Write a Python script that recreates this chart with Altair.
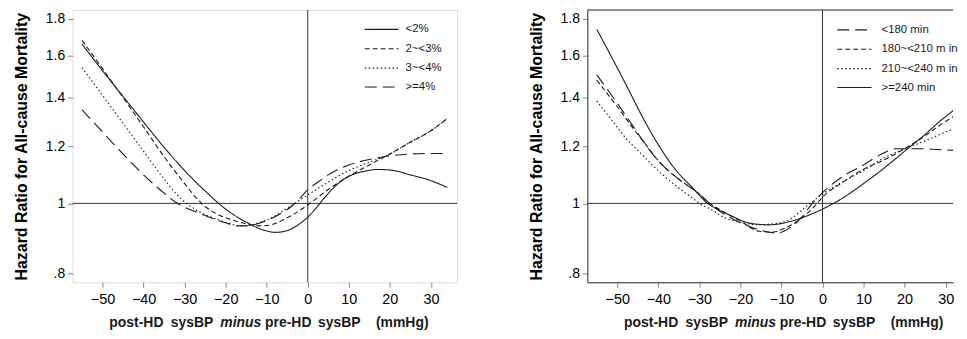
import altair as alt
import pandas as pd

# ---------------- data ----------------
left_names = ["<2%", "2~<3%", "3~<4%", ">=4%"]

l1_x = [-55, -50, -45, -40, -35, -30, -25, -20, -15, -10, -8, -6, -4, -2, 0, 2, 4, 6, 8, 10, 14, 17, 20, 25, 30, 34]
l1_y = [1.66, 1.525, 1.405, 1.295, 1.195, 1.11, 1.04, 0.982, 0.942, 0.916, 0.912, 0.914, 0.922, 0.937, 0.957, 0.985, 1.017, 1.047, 1.072, 1.09, 1.108, 1.114, 1.112, 1.095, 1.075, 1.052]

l2_x = [-55, -50, -45, -40, -35, -30, -27, -25, -22, -19, -15, -12, -10, -5, 0, 5, 10, 15, 20, 25, 30, 34]
l2_y = [1.68, 1.535, 1.40, 1.275, 1.16, 1.065, 1.015, 0.99, 0.966, 0.951, 0.937, 0.931, 0.932, 0.955, 0.995, 1.045, 1.09, 1.13, 1.17, 1.215, 1.26, 1.31]

l3_x = [-55, -50, -45, -40, -35, -32, -30, -27.5, -25, -20, -17, -15, -12, -10, -5, 0, 5, 10, 15, 20, 25, 30, 34]
l3_y = [1.54, 1.41, 1.29, 1.18, 1.08, 1.03, 1.005, 0.982, 0.965, 0.942, 0.932, 0.932, 0.94, 0.948, 0.985, 1.027, 1.07, 1.11, 1.14, 1.17, 1.215, 1.26, 1.31]

l4_x = [-55, -50, -45, -40, -35, -32, -30, -27, -25, -20, -17, -15, -12, -10, -7, -4, -2, 0, 3, 5, 10, 15, 20, 25, 30, 34]
l4_y = [1.347, 1.255, 1.17, 1.095, 1.033, 1.002, 0.988, 0.972, 0.962, 0.94, 0.931, 0.931, 0.938, 0.947, 0.965, 0.99, 1.015, 1.045, 1.075, 1.095, 1.13, 1.15, 1.163, 1.17, 1.172, 1.172]

right_names = ["<180 min", "180~<210 min", "210~<240 min", ">=240 min"]
right_labels = ["<180 min", "180~<210 m in", "210~<240 m in", ">=240 min"]

r1_x = [-55, -50, -45, -43.8, -39.7, -35, -30, -27.5, -25, -20, -15, -11, -8, -5, -2.5, 0, 5, 10, 13.8, 17.9, 23.5, 28, 34]
r1_y = [1.505, 1.375, 1.25, 1.221, 1.14, 1.08, 1.03, 1.0, 0.975, 0.94, 0.918, 0.910, 0.925, 0.958, 1.0, 1.035, 1.09, 1.13, 1.165, 1.19, 1.19, 1.187, 1.182]

r2_x = [-55, -50, -45, -43.8, -39.7, -35, -30, -27.5, -25, -20, -15.4, -12, -10, -5, -2, 0, 5, 10, 13.8, 20, 25, 28.4, 34]
r2_y = [1.48, 1.36, 1.245, 1.221, 1.14, 1.08, 1.03, 1.0, 0.98, 0.945, 0.915, 0.913, 0.92, 0.955, 0.99, 1.02, 1.07, 1.115, 1.14, 1.19, 1.24, 1.28, 1.34]

r3_x = [-55, -50, -47.8, -45, -39.7, -35, -31.6, -30, -27, -24.3, -20, -16, -12, -8, -4, 0, 5, 10, 13.8, 20, 25, 30, 34]
r3_y = [1.385, 1.274, 1.228, 1.184, 1.105, 1.05, 1.016, 1.0, 0.98, 0.958, 0.942, 0.934, 0.937, 0.95, 0.99, 1.03, 1.072, 1.11, 1.146, 1.19, 1.22, 1.255, 1.28]

r4_x = [-55, -51.5, -47.5, -43.8, -40, -35.7, -31.6, -28, -26.8, -22, -18.7, -15, -13, -10, -6.5, -3, 0, 2.4, 5, 8, 10, 13.8, 18, 21.9, 25, 28, 31.6, 34]
r4_y = [1.74, 1.597, 1.445, 1.314, 1.205, 1.111, 1.05, 1.0, 0.99, 0.96, 0.942, 0.935, 0.934, 0.938, 0.949, 0.965, 0.982, 0.998, 1.018, 1.045, 1.065, 1.105, 1.155, 1.205, 1.245, 1.29, 1.34, 1.375]

x_ticks = [-50, -40, -30, -20, -10, 0, 10, 20, 30]
y_ticks = [0.8, 1.0, 1.2, 1.4, 1.6, 1.8]

# ---------------- styling ----------------
FONT = "Liberation Sans"
INK = "#1a1a1a"
H = 274
W_LEFT = 387
W_RIGHT = 368
PX_PER_UNIT = 4.13
X_MIN = -57.3
Y_DOMAIN = [0.778, 1.85]

DASH_SOLID = [1, 0]
DASH_SHORT = [5, 3]
DASH_DOT = [1.5, 2.5]
DASH_LONG = [12, 6]

left_dash = [DASH_SOLID, DASH_SHORT, DASH_DOT, DASH_LONG]
right_dash = [DASH_LONG, DASH_SHORT, DASH_DOT, DASH_SOLID]


def make_df(names, xs_list, ys_list):
    rows = []
    for n, xs, ys in zip(names, xs_list, ys_list):
        for xv, yv in zip(xs, ys):
            rows.append({"series": n, "x": xv, "y": yv})
    return pd.DataFrame(rows)


def panel(names, labels, xs_list, ys_list, dashes, width, leg_x0, leg_x1, leg_tx,
          leg_rows, framed):
    df = make_df(names, xs_list, ys_list)
    x_max = X_MIN + width / PX_PER_UNIT
    xenc = alt.X("x:Q",
                 scale=alt.Scale(domain=[X_MIN, x_max], nice=False, zero=False),
                 axis=alt.Axis(values=x_ticks, title=None, format="d",
                               labelFontSize=14.5, labelPadding=5, tickSize=5,
                               domain=not framed, domainColor="#222",
                               grid=False))
    yenc = alt.Y("y:Q",
                 scale=alt.Scale(type="log", domain=Y_DOMAIN, nice=False),
                 axis=alt.Axis(values=y_ticks, grid=False, domain=not framed,
                               domainColor="#222",
                               labelExpr="datum.value < 0.9 ? '.8' : (abs(datum.value - 1) < 0.01 ? '1' : format(datum.value, '.1f'))",
                               title="Hazard Ratio for All-cause  Mortality",
                               titleFontSize=16, titleFontWeight="bold",
                               titlePadding=16, labelFontSize=14,
                               labelPadding=3, tickSize=5))
    lines = alt.Chart(df).mark_line(clip=True, color=INK, strokeWidth=1.1,
                                    interpolate="monotone").encode(
        x=xenc, y=yenc,
        strokeDash=alt.StrokeDash("series:N",
                                  scale=alt.Scale(domain=names, range=dashes),
                                  legend=None))
    vline = alt.Chart(pd.DataFrame({"x": [0]})).mark_rule(color="#333", strokeWidth=1).encode(x="x:Q")
    hline = alt.Chart(pd.DataFrame({"y": [1.0]})).mark_rule(color="#333", strokeWidth=1).encode(y="y:Q")

    layers = [hline, vline, lines]
    if not framed:
        # top border of the (cut-off) right panel
        layers.append(alt.Chart(pd.DataFrame({"b": [0]})).mark_rule(
            color="#222", strokeWidth=1).encode(
            x=alt.value(0), x2=alt.value(width), y=alt.value(0)))
    # legend drawn by hand
    for i, (lab, d) in enumerate(zip(labels, dashes)):
        ry = leg_rows[i]
        layers.append(alt.Chart(pd.DataFrame({"label": [lab]})).mark_rule(
            color=INK, strokeWidth=1.2, strokeDash=d).encode(
            x=alt.value(leg_x0), x2=alt.value(leg_x1), y=alt.value(ry)))
        layers.append(alt.Chart(pd.DataFrame({"label": [lab]})).mark_text(
            align="left", baseline="middle", font=FONT, fontSize=11.5, color=INK).encode(
            text="label:N", x=alt.value(leg_tx), y=alt.value(ry)))
    # x-axis title with italic "minus"
    pieces = [("post-HD", 37, "normal"), ("sysBP", 98.7, "normal"), ("minus", 148.7, "italic"),
              ("pre-HD", 193.7, "normal"), ("sysBP", 247, "normal"), ("(mmHg)", 305.3, "normal")]
    for t, px, st in pieces:
        layers.append(alt.Chart(pd.DataFrame({"t": [t]})).mark_text(
            align="left", baseline="alphabetic", font=FONT, fontSize=14,
            fontWeight="bold", fontStyle=st, color=INK).encode(
            text="t:N", x=alt.value(px), y=alt.value(H + 45)))
    ch = alt.layer(*layers).properties(width=width, height=H)
    if not framed:
        ch = ch.properties(view=alt.ViewBackground(stroke="transparent"))
    return ch


left = panel(left_names, left_names, [l1_x, l2_x, l3_x, l4_x], [l1_y, l2_y, l3_y, l4_y],
             left_dash, W_LEFT, 294, 328, 335, [19.5, 39, 58.5, 77.5], True)
right = panel(right_names, right_labels, [r1_x, r2_x, r3_x, r4_x], [r1_y, r2_y, r3_y, r4_y],
              right_dash, W_RIGHT, 251.5, 286, 296, [20, 39.5, 59, 78], False)

chart = alt.hconcat(left, right, spacing=70).resolve_scale(
    strokeDash="independent", x="independent", y="independent"
).properties(
    padding={"left": 5, "top": 0, "right": 0, "bottom": 0}
).configure_view(stroke="#222", strokeWidth=1).configure_axis(
    labelFont=FONT, titleFont=FONT, labelColor=INK, titleColor=INK,
    tickColor="#222"
).configure(background="white")

chart.save("out.html", embed_options={"renderer": "svg", "actions": False})
